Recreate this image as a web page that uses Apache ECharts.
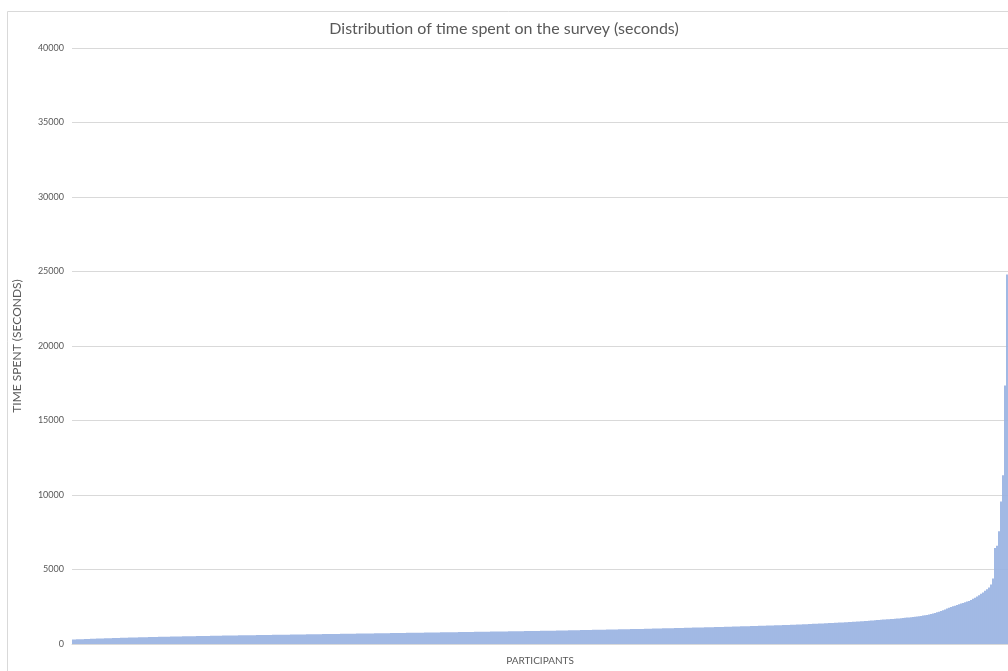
<!DOCTYPE html>
<html>
<head>
<meta charset="utf-8">
<script src="https://cdn.jsdelivr.net/npm/echarts@6/dist/echarts.min.js"></script>
<style>
html,body{margin:0;padding:0;background:#fff;}
#chart{width:1008px;height:671px;}
</style>
</head>
<body>
<div id="chart"></div>
<script>
// Time spent per participant (seconds), sorted ascending
const timesLow = [
  298,305,311,316,322,327,333,338,343,349,353,358,364,369,
  372,376,381,385,389,393,397,401,405,409,413,417,421,425,429,
  432,436,439,443,446,450,453,457,460,463,467,470,473,476,479,
  482,485,488,490,493,496,498,501,504,507,509,512,514,517,519,
  522,525,527,530,532,535,537,540,543,545,548,550,553,556,558,
  561,563,565,567,569,571,573,575,577,579,581,583,585,587,589,
  591,593,595,597,599,601,603,605,607,609,611,613,615,617,619
];
const timesMid = [
  621,623,625,627,629,631,633,635,637,639,641,643,645,647,649,
  651,653,655,657,659,661,663,665,667,669,671,673,675,677,679,
  681,682,684,687,688,690,693,694,697,699,700,703,705,706,709,
  710,712,715,716,719,721,722,725,727,728,731,733,734,737,739,
  741,743,745,747,749,750,753,755,757,759,760,763,765,767,769,
  771,773,775,776,779,781,783,785,786,789,791,793,795,796,799,
  801,803,805,807,808,811,813,815,817,818,821,823,825,827,829,
  831,833,835,836,839,841,843,845,846,849,851,853,855,857,859,
  861,863,865,867,868,871,873,875,877,878,881,883,885,887,889,
  892,895,897,900,903,905,908,911,913,916,919,921,924,927,929,
  932,935,937,940,943,945,948,951,953,956,959,961,964,967,969,
  972,975,977,980,983,985,988,991,993,996,999,1001,1004,1007,1009
];
const timesHigh = [
  1012,1015,1019,1022,1025,1029,1032,1035,1039,1042,1045,1049,1052,1055,1059,
  1062,1065,1069,1072,1075,1079,1082,1085,1089,1092,1095,1099,1102,1105,1109,
  1112,1115,1119,1122,1125,1129,1132,1135,1139,1142,1145,1149,1152,1155,1159,
  1163,1167,1171,1175,1179,1183,1187,1191,1195,1199,1203,1207,1211,1215,1219,
  1223,1227,1231,1235,1239,1243,1247,1251,1255,1259,1263,1267,1271,1275,1279,
  1285,1291,1297,1303,1309,1315,1321,1327,1333,1339,1345,1351,1357,1363,1369,
  1376,1383,1389,1396,1403,1409,1416,1423,1429,1436,1443,1449,1456,1463,1469,
  1478,1486,1494,1503,1512,1521,1531,1541,1551,1561,1571,1582,1594,1606,1618
];
const timesUpper = [
  1626,1636,1646,1656,1666,1676,1686,1696,1706,1716,
  1730,1743,1757,1771,1786,1801,1817,1833,1850,1868,
  1887,1908,1930,1954,1980,
  2010,2045,2085,2125,2170,
  2220,2270,2320,2375,2430,
  2485,2530,2575,2620,2670,
  2715,2760,2800,2845,2890,
  2950,3030,3110,3190,
  3280,3370,3460,
  3570,3680,3800,
  4000,4400
];
const timesOutliers = [6450,6600,7560,9560,11330,17350,24800];

const yTicks = [0,5000,10000,15000,20000,25000,30000,35000,40000];
const titleText = 'Distribution of time spent on the survey (seconds)';
const yName = 'TIME SPENT (SECONDS)';
const xName = 'PARTICIPANTS';

const times = [].concat(timesLow, timesMid, timesHigh, timesUpper, timesOutliers);
const participants = times.map((_, i) => String(i + 1));

const chart = echarts.init(document.getElementById('chart'), null, {renderer: 'canvas'});
const textColor = '#595959';
const font = 'Lato, "Open Sans", "Liberation Sans", sans-serif';

chart.setOption({
  animation: false,
  backgroundColor: '#ffffff',
  textStyle: {fontFamily: font},
  graphic: [{
    type: 'rect',
    left: 5, top: 9,
    shape: {width: 1100, height: 700},
    style: {fill: 'none', stroke: '#d9d9d9', lineWidth: 1},
    silent: true
  }],
  title: {
    text: titleText,
    left: 'center',
    top: 16,
    textStyle: {fontFamily: font, fontSize: 16, fontWeight: 'normal', color: textColor}
  },
  grid: {left: 72, right: 0, top: 48, bottom: 24, containLabel: false},
  xAxis: {
    type: 'category',
    data: participants,
    name: xName,
    nameLocation: 'middle',
    nameGap: 12,
    nameTextStyle: {fontFamily: font, fontSize: 10, color: textColor},
    axisLine: {show: true, lineStyle: {color: '#d9d9d9'}},
    axisTick: {show: false},
    axisLabel: {show: false},
    splitLine: {show: false}
  },
  yAxis: {
    type: 'value',
    min: yTicks[0],
    max: yTicks[yTicks.length - 1],
    interval: yTicks[1] - yTicks[0],
    name: yName,
    nameLocation: 'middle',
    nameGap: 49,
    nameTextStyle: {fontFamily: font, fontSize: 12, color: textColor},
    axisLine: {show: false},
    axisTick: {show: false},
    axisLabel: {fontFamily: font, fontSize: 9, color: textColor, margin: 8, formatter: v => String(v)},
    splitLine: {show: true, lineStyle: {color: '#d9d9d9', width: 1}}
  },
  series: [{
    type: 'bar',
    data: times,
    barCategoryGap: '8%',
    itemStyle: {color: '#9ab3e2'},
    silent: true
  }]
});
</script>
</body>
</html>
